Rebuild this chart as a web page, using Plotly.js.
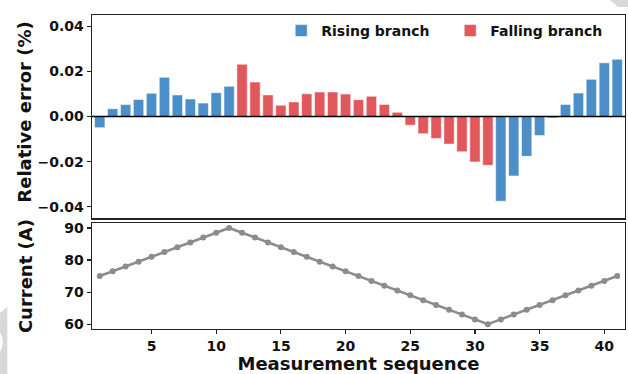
<!DOCTYPE html>
<html>
<head>
<meta charset="utf-8">
<script src="https://cdn.plot.ly/plotly-3.0.1.min.js"></script>
<style>html,body{margin:0;padding:0;background:#fff;}#chart{width:628px;height:374px;}</style>
</head>
<body>
<div id="chart"></div>
<script>
const sequence = [1,2,3,4,5,6,7,8,9,10,11,12,13,14,15,16,17,18,19,20,21,22,23,24,25,26,27,28,29,30,31,32,33,34,35,36,37,38,39,40,41];
const relError = [-0.0049,0.0035,0.0053,0.0076,0.0103,0.0174,0.0096,0.0078,0.0060,0.0106,0.0134,
  0.0232,0.0153,0.0096,0.0050,0.0065,0.0101,0.0109,0.0109,0.0100,0.0075,0.0090,0.0054,0.0019,
  -0.0038,-0.0076,-0.0097,-0.0122,-0.0156,-0.0201,-0.0216,
  -0.0375,-0.0263,-0.0176,-0.0084,-0.0006,0.0054,0.0104,0.0165,0.0238,0.0254];
const branch = ['R','R','R','R','R','R','R','R','R','R','R',
  'F','F','F','F','F','F','F','F','F','F','F','F','F','F','F','F','F','F','F','F',
  'R','R','R','R','R','R','R','R','R','R'];
const current = [75,76.5,78,79.5,81,82.5,84,85.5,87,88.5,90,88.5,87,85.5,84,82.5,81,79.5,78,76.5,75,73.5,72,70.5,69,67.5,66,64.5,63,61.5,60,61.5,63,64.5,66,67.5,69,70.5,72,73.5,75];
const xTicks = [5,10,15,20,25,30,35,40];
const yTicksErr = [-0.04,-0.02,0,0.02,0.04];
const yTickErrLabels = ['\u22120.04','\u22120.02','0.00','0.02','0.04'];
const yTicksCur = [60,70,80,90];
const seriesNames = {R:'Rising branch', F:'Falling branch'};
const seriesColors = {R:'#4c8ec8', F:'#e0575c'};

const FONT = 'DejaVu Sans, sans-serif';
function pick(arr, key){ return arr.filter((_,i)=>branch[i]===key); }
function barTrace(key){
  return {
    type:'bar', x:pick(sequence,key), y:pick(relError,key), name:seriesNames[key],
    width:0.8, xaxis:'x', yaxis:'y',
    marker:{color:seriesColors[key], line:{color:'rgba(255,255,255,0.55)', width:1}},
    hoverinfo:'skip'
  };
}
const traces = [
  barTrace('R'), barTrace('F'),
  {type:'scatter', mode:'lines+markers', x:sequence, y:current, xaxis:'x2', yaxis:'y2',
   line:{color:'#8c8c8c', width:2.6}, marker:{color:'#8c8c8c', size:6}, showlegend:false}
];
const axBase = {showline:true, mirror:true, linecolor:'#222', linewidth:1.4, ticks:'outside',
  ticklen:4, tickwidth:1.2, tickcolor:'#222', showgrid:false, zeroline:false,
  tickfont:{family:FONT, size:14, color:'#111', weight:'bold'}};
const titleFont = {family:FONT, size:18, color:'#111', weight:'bold'};
const layout = {
  width:628, height:374, paper_bgcolor:'#fff', plot_bgcolor:'#fff',
  margin:{l:92, r:3, t:15, b:45},
  showlegend:true, barmode:'overlay',
  legend:{orientation:'h', x:0.355, xanchor:'left', y:1.0, yanchor:'top', entrywidth:124,
    bgcolor:'rgba(0,0,0,0)', font:{family:FONT, size:14, color:'#111', weight:'bold'}, itemwidth:30},
  xaxis:Object.assign({}, axBase, {domain:[0,1], range:[0.4,41.6], anchor:'y', tickvals:xTicks, showticklabels:false, ticks:''}),
  yaxis:Object.assign({}, axBase, {domain:[0.353,1], range:[-0.045,0.045], anchor:'x', tickvals:yTicksErr, ticktext:yTickErrLabels}),
  xaxis2:Object.assign({}, axBase, {domain:[0,1], range:[0.4,41.6], anchor:'y2', tickvals:xTicks,
    title:{text:'Measurement sequence', font:titleFont, standoff:0}}),
  yaxis2:Object.assign({}, axBase, {domain:[0,0.337], range:[58.5,91.5], anchor:'x2', tickvals:yTicksCur,
    title:{text:'Current (A)', font:titleFont, standoff:27}}),
  annotations:[
    {text:'Relative error (%)', xref:'paper', yref:'paper', x:-0.1257, y:0.689, xanchor:'center', yanchor:'middle',
     textangle:-90, showarrow:false, font:titleFont}
  ],
  shapes:[
    {type:'line', xref:'x domain', yref:'y', x0:0, x1:1, y0:0, y1:0, line:{color:'#000', width:1.5}, layer:'above'},
    {type:'path', xref:'paper', yref:'paper', layer:'below', fillcolor:'#d8d8d8', line:{width:0},
     path:'M -0.1726 0.051 L -0.1589 0.0701 L -0.1589 -0.1433 L -0.1726 -0.1433 L -0.1726 -0.0732 Q -0.1620 -0.0414 -0.1726 -0.0096 Z'},
    {type:'path', xref:'paper', yref:'paper', layer:'below', fillcolor:'#d8d8d8', line:{width:0},
     path:'M 0.9719 1.0478 L 1.0056 1.0478 L 1.0056 1.0255 L 0.9869 1.0255 Z'}
  ]
};
Plotly.newPlot('chart', traces, layout, {displayModeBar:false, staticPlot:true});
</script>
</body>
</html>
